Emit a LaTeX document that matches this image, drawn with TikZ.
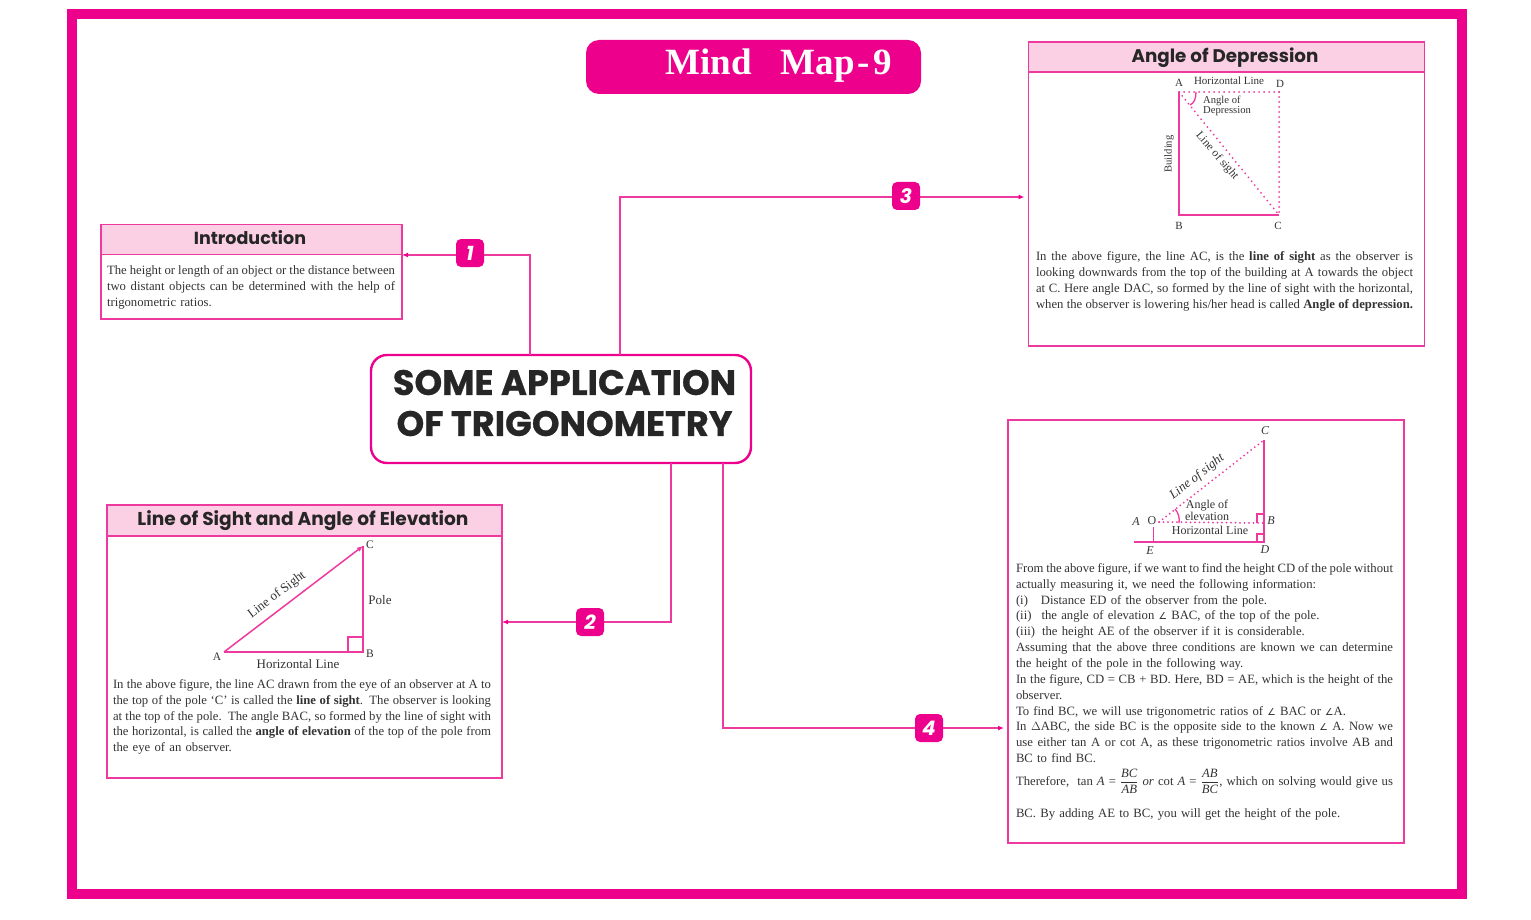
\documentclass[tikz,border=0pt]{standalone}
\usepackage{fontspec}
\usetikzlibrary{arrows.meta,calc}
\setmainfont{Liberation Serif}
\newfontfamily\hdfont{Poppins}
\newfontfamily\heavyfont{Poppins}[BoldFeatures={FakeBold=0.7}]
\newfontfamily\symfont{DejaVu Sans}
\definecolor{mag}{HTML}{EC008C}
\definecolor{linepink}{HTML}{EE3A9E}
\definecolor{headpink}{HTML}{FBD0E4}
\definecolor{bodygrey}{HTML}{333333}
\newdimen\jwid
\newcommand\jline[1]{\par\noindent\hbox to\jwid{\spaceskip=.25em plus 20em minus .25em\relax #1}\par}
\newcommand\pline[1]{\par\noindent\hbox{#1}\par}
\newcommand\angsym{{\symfont\fontsize{9.5}{9.5}\selectfont ∠}}
\newcommand\fracit[2]{$\displaystyle\frac{\hbox{\itshape #1}}{\hbox{\itshape #2}}$}
\tikzset{
  x=1pt,y=-1pt,
  boxframe/.style={draw=linepink,line width=1.6pt,fill=white,minimum width=#1,inner sep=0pt,outer sep=0pt},
  headbar/.style={draw=linepink,line width=1.6pt,fill=headpink,inner sep=0pt,outer sep=0pt},
  headtext/.style={inner sep=0pt,text=black!85,font=\hdfont\bfseries\fontsize{#1}{20}\selectfont},
  conn/.style={draw=linepink,line width=1.5pt,-{Latex[length=6pt,width=5pt,color=mag]}},
  badge/.style={fill=mag,rounded corners=5pt,minimum size=28pt,inner sep=0pt,text=white,font=\hdfont\bfseries\itshape\fontsize{20}{20}\selectfont},
  bodytext/.style={anchor=north west,inner sep=0pt,outer sep=0pt,text=bodygrey,text width=#1,font=\fontsize{12.7}{15.85}\selectfont},
  figlabel/.style={inner sep=0pt,text=bodygrey,font=\fontsize{11.5}{11.5}\selectfont},
  figsmall/.style={inner sep=0pt,text=bodygrey,font=\fontsize{10.6}{10}\selectfont},
  figline/.style={draw=linepink,line width=1.5pt},
  dotline/.style={draw=linepink,line width=2pt,line cap=round,dash pattern=on 0pt off 5pt},
}
\begin{document}
\begin{tikzpicture}
\useasboundingbox (0,0) rectangle (1531,920);
\fill[white] (0,0) rectangle (1531,920);
% outer frame
\draw[mag,line width=10pt] (72,14) rectangle (1462,894);
% title
\node[fill=mag,rounded corners=13pt,minimum width=335pt,minimum height=54pt,inner sep=0pt,text=white] (title) at (753.5,67) {};
\node[text=white,inner sep=0pt,font=\bfseries\fontsize{37}{37}\selectfont] (titletext) at (778.5,66) {Mind\hspace{29pt}Map\hspace{3pt}-\hspace{3pt}9};
% main node
\node[draw=mag,line width=2.4pt,fill=white,rounded corners=16pt,minimum width=380pt,minimum height=108pt,inner sep=0pt,outer sep=0pt] (main) at (561,409) {};
\node[inner sep=0pt,align=center,text=black!85,font=\heavyfont\bfseries\fontsize{35.2}{41}\selectfont] (maintext) at (564.5,403) {SOME APPLICATION\\OF TRIGONOMETRY};
% boxes
\node[boxframe=301pt,minimum height=94pt] (introbox) at (251.5,272) {};
\node[headbar,minimum width=301pt,minimum height=30pt] (introhead) at (251.5,239.5) {};
\node[headtext=17.5] (introtitle) at (250,238) {Introduction};
\node[boxframe=395pt,minimum height=273pt] (elevbox) at (304.5,641.5) {};
\node[headbar,minimum width=395pt,minimum height=31pt] (elevhead) at (304.5,520.5) {};
\node[headtext=18.6] (elevtitle) at (303,521) {Line of Sight and Angle of Elevation};
\node[boxframe=396pt,minimum height=304pt] (depbox) at (1226.5,194) {};
\node[headbar,minimum width=396pt,minimum height=30pt] (dephead) at (1226.5,57) {};
\node[headtext=18.3] (deptitle) at (1225,58) {Angle of Depression};
\node[boxframe=396pt,minimum height=423pt] (polebox) at (1206,631.5) {};
% connectors
\coordinate (p1) at (530,255);
\coordinate (p2) at (671,622);
\coordinate (p3) at (620,197);
\coordinate (p4) at (723,728);
\draw[conn] (main.north -| p1) -- (p1) -- (p1 -| introbox.east);
\draw[conn] (main.south -| p2) -- (p2) -- (p2 -| elevbox.east);
\draw[conn] (main.north -| p3) -- (p3) -- ($(p3 -| depbox.west)+(-4,0)$);
\draw[conn] (main.south -| p4) -- (p4) -- ($(p4 -| polebox.west)+(-4,0)$);
\node[badge] (b1) at (470,253) {1};
\node[badge] (b2) at (590,622) {2};
\node[badge] (b3) at (906,196) {3};
\node[badge] (b4) at (929,728) {4};
% intro text
\node[bodytext=288pt] (introtext) at (107,258.5) {\jwid=288pt\relax
\jline{The height or length of an object or the distance between}
\jline{two distant objects can be determined with the help of}
\pline{trigonometric ratios.}};
% elevation figure
\coordinate (eA) at (224,652); \coordinate (eB) at (363,652); \coordinate (eC) at (363,546);
\draw[figline] (eA) -- (eB) -- (eC);
\draw[figline,-{Latex[length=6pt,width=5pt]}] (eA) -- (eC);
\draw[figline,line width=1.2pt] ($(eB)+(-15,0)$) -- ++(0,-15) -- ++(15,0);
\node[figlabel] (lA) at (217,657) {A};
\node[figlabel] (lB) at (370,654) {B};
\node[figlabel] (lC) at (370,545) {C};
\node[figlabel,font=\fontsize{13}{13}\selectfont] (lP) at (380,600) {Pole};
\node[figlabel,font=\fontsize{13}{13}\selectfont] (lH) at (298,664) {Horizontal Line};
\node[figlabel,rotate=37,font=\fontsize{13}{13}\selectfont] (lS) at (277,595) {Line of Sight};
\node[bodytext=378pt] (elevtext) at (113,672.5) {\jwid=378pt\relax
\jline{In the above figure, the line AC drawn from the eye of an observer at A to}
\jline{the top of the pole `C' is called the \textbf{line of sight}. The observer is looking}
\jline{at the top of the pole. The angle BAC, so formed by the line of sight with}
\jline{the horizontal, is called the \textbf{angle of elevation} of the top of the pole from}
\pline{the eye of an observer.}};
% depression figure
\coordinate (dA) at (1179,92); \coordinate (dB) at (1179,215); \coordinate (dC) at (1279,215); \coordinate (dD) at (1279,92);
\draw[figline] (dA) -- (dB) -- (dC);
\draw[dotline] (dA) -- (dD);
\draw[dotline] (dD) -- (dC);
\draw[dotline] (dA) -- (dC);
\draw[figline,line width=1.3pt] (1196,92) .. controls (1196,99) and (1194,103) .. (1190,105);
\node[figlabel,font=\fontsize{11}{11}\selectfont] (dlA) at (1179,83) {A};
\node[figsmall,font=\fontsize{11}{11}\selectfont] (dlH) at (1229,81) {Horizontal Line};
\node[figlabel,font=\fontsize{11}{11}\selectfont] (dlD) at (1280,84) {D};
\node[figlabel,font=\fontsize{11}{11}\selectfont] (dlB) at (1179,226) {B};
\node[figlabel,font=\fontsize{11}{11}\selectfont] (dlC) at (1278,226) {C};
\node[figsmall,anchor=west,align=left] (dlAng) at (1203,105.5) {Angle of\\Depression};
\node[figsmall,rotate=90] (dlBu) at (1169,154) {Building};
\node[figsmall,rotate=-49,font=\fontsize{11.5}{11.5}\selectfont] (dlS) at (1217,156) {Line of sight};
\node[bodytext=377pt] (deptext) at (1036,245) {\jwid=377pt\relax
\jline{In the above figure, the line AC, is the \textbf{line of sight} as the observer is}
\jline{looking downwards from the top of the building at A towards the object}
\jline{at C. Here angle DAC, so formed by the line of sight with the horizontal,}
\jline{when the observer is lowering his/her head is called \textbf{Angle of depression.}}};
% pole figure
\coordinate (pC) at (1264,440); \coordinate (pD) at (1264,542); \coordinate (pG) at (1134,542);
\coordinate (pE) at (1153.5,542); \coordinate (pEt) at (1153.5,527); \coordinate (pO) at (1159,522); \coordinate (pB) at (1264,523);
\draw[figline] (pC) -- (pD) -- (pG);
\draw[figline] (pE) -- (pEt);
\draw[dotline,dash pattern=on 0pt off 4.5pt] (pO) -- (pB);
\draw[dotline,dash pattern=on 0pt off 4.5pt] (pO) -- (pC);
\draw[figline,line width=1.2pt] ($(pB)+(-7,0)$) -- ++(0,-9) -- ++(7,0);
\draw[figline,line width=1.2pt] ($(pD)+(-7,0)$) -- ++(0,-8) -- ++(7,0);
\draw[figline,line width=1.3pt] (1175,509) .. controls (1178,512) and (1180,518) .. (1179,523);
\node[figlabel,font=\itshape\fontsize{12}{12}\selectfont] (plC) at (1265,431) {C};
\node[figlabel,font=\itshape\fontsize{12}{12}\selectfont] (plB) at (1271,521) {B};
\node[figlabel,font=\itshape\fontsize{12}{12}\selectfont] (plD) at (1265,550) {D};
\node[figlabel,font=\itshape\fontsize{12}{12}\selectfont] (plE) at (1150,551) {E};
\node[figlabel,font=\itshape\fontsize{12}{12}\selectfont] (plA) at (1136,522) {A};
\node[figlabel,font=\fontsize{12}{12}\selectfont] (plO) at (1152,521) {O};
\node[figlabel,rotate=38,font=\itshape\fontsize{13}{13}\selectfont] (plS) at (1197,477) {Line of sight};
\node[figsmall,align=center,font=\fontsize{12}{10.5}\selectfont] (plAng) at (1207,510.5) {Angle of\\elevation};
\node[figsmall,font=\fontsize{12}{12}\selectfont] (plH) at (1210,530) {Horizontal Line};
\node[bodytext=377pt] (poletext) at (1016,556.5) {\jwid=377pt\relax
\jline{From the above figure, if we want to find the height CD of the pole without}
\pline{actually measuring it, we need the following information:}
\pline{(i)\hspace{13pt}Distance ED of the observer from the pole.}
\pline{(ii)\hspace{10pt}the angle of elevation \angsym\ BAC, of the top of the pole.}
\pline{(iii)\hspace{7pt}the height AE of the observer if it is considerable.}
\jline{Assuming that the above three conditions are known we can determine}
\pline{the height of the pole in the following way.}
\jline{In the figure, CD = CB + BD. Here, BD = AE, which is the height of the}
\pline{observer.}
\pline{To find BC, we will use trigonometric ratios of \angsym\ BAC or \angsym A.}
\jline{In $\Delta$ABC, the side BC is the opposite side to the known \angsym\ A. Now we}
\jline{use either tan A or cot A, as these trigonometric ratios involve AB and}
\pline{BC to find BC.}};
\node[bodytext=377pt,anchor=west] (poleformula) at (1016,781) {\jwid=377pt\relax
\jline{Therefore,\ \ tan \textit{A} = \fracit{BC}{AB} \textit{or} cot \textit{A} = \fracit{AB}{BC}, which on solving would give us}};
\node[bodytext=377pt] (polelast) at (1016,801.5) {\jwid=377pt\relax\pline{BC. By adding AE to BC, you will get the height of the pole.}};
\end{tikzpicture}
\end{document}
